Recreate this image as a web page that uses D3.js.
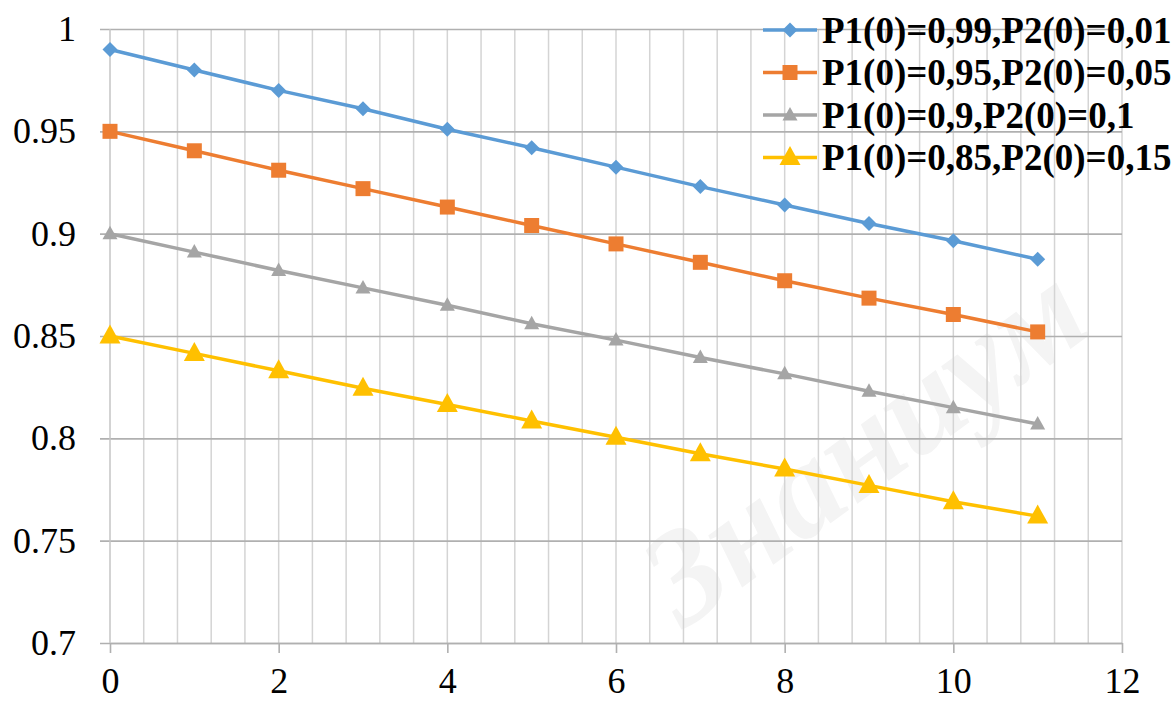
<!DOCTYPE html>
<html>
<head>
<meta charset="utf-8">
<script src="https://cdn.jsdelivr.net/npm/d3@7"></script>
<style>
  body { margin: 0; background: #fff; }
  svg text { font-family: "Liberation Serif", "Times New Roman", Tinos, "DejaVu Serif", serif !important; }
</style>
</head>
<body>
<div id="chart"></div>
<script>
// data
var steps = [0, 1, 2, 3, 4, 5, 6, 7, 8, 9, 10, 11];
var s1 = [0.99, 0.980, 0.970, 0.961, 0.951, 0.942, 0.9325, 0.923, 0.914, 0.905, 0.8965, 0.8875];
var s2 = [0.95, 0.9405, 0.931, 0.922, 0.913, 0.904, 0.895, 0.886, 0.877, 0.8685, 0.8605, 0.852];
var s3 = [0.90, 0.891, 0.882, 0.8735, 0.865, 0.856, 0.848, 0.8395, 0.8315, 0.823, 0.815, 0.807];
var s4 = [0.85, 0.8415, 0.833, 0.8245, 0.8165, 0.8085, 0.8005, 0.7925, 0.785, 0.777, 0.769, 0.762];
var seriesNames = ["P1(0)=0,99,P2(0)=0,01", "P1(0)=0,95,P2(0)=0,05", "P1(0)=0,9,P2(0)=0,1", "P1(0)=0,85,P2(0)=0,15"];
var xTicks = [0, 2, 4, 6, 8, 10, 12];
var yTicks = [0.7, 0.75, 0.8, 0.85, 0.9, 0.95, 1];

var svgWidth = 1176;
var svgHeight = 702;
var margin = { top: 29, right: 54, bottom: 59, left: 110 };
var width = svgWidth - margin.left - margin.right;
var height = svgHeight - margin.top - margin.bottom;

var colors = ["#5B9BD5", "#ED7D31", "#A5A5A5", "#FFC000"];
var shapes = ["diamond", "square", "triangle", "bigtriangle"];

var svg = d3.select("#chart").append("svg")
    .attr("width", svgWidth)
    .attr("height", svgHeight);

// faint watermark
svg.append("text")
    .attr("transform", "translate(890, 480) rotate(-36)")
    .attr("text-anchor", "middle")
    .attr("font-size", 135)
    .attr("font-weight", "bold")
    .attr("font-style", "italic")
    .attr("fill", "#f4f4f4")
    .text("Знаниум");

var chartGroup = svg.append("g")
    .attr("transform", `translate(${margin.left}, ${margin.top})`);

var xscale = d3.scaleLinear().domain([0, 12]).range([0, width]);
var yscale = d3.scaleLinear().domain([0.7, 1]).range([height, 0]);

// minor vertical grid every 0.4
var minorX = d3.range(1, 31).map(i => +(i * 0.4).toFixed(1));
chartGroup.append("g").selectAll("line")
    .data(minorX)
    .enter().append("line")
    .attr("x1", d => xscale(d)).attr("x2", d => xscale(d))
    .attr("y1", 0).attr("y2", height)
    .attr("stroke", "#d4d4d4")
    .attr("stroke-width", 1.5);

// horizontal major grid + y axis
var leftAxis = d3.axisLeft(yscale)
    .tickValues(yTicks)
    .tickSize(-width - 10)
    .tickFormat(d => d3.format("")(d));
chartGroup.append("g")
    .attr("transform", "translate(-10,0)")
    .call(leftAxis)
    .call(g => g.select(".domain").remove())
    .call(g => g.selectAll(".tick line").attr("stroke", "#b0b0b0").attr("stroke-width", 1.6))
    .call(g => g.selectAll(".tick text")
        .attr("x", -24)
        .attr("font-size", 36)
        .attr("fill", "#000"));

// x axis
var bottomAxis = d3.axisBottom(xscale)
    .tickValues(xTicks)
    .tickSize(10)
    .tickSizeOuter(0);
chartGroup.append("g")
    .attr("transform", `translate(0, ${height})`)
    .call(bottomAxis)
    .call(g => g.select(".domain").attr("stroke", "#b0b0b0").attr("stroke-width", 1.6))
    .call(g => g.selectAll(".tick line").attr("stroke", "#b0b0b0").attr("stroke-width", 1.6))
    .call(g => g.selectAll(".tick text")
        .attr("y", 24)
        .attr("dy", "0.71em")
        .attr("font-size", 36)
        .attr("fill", "#000"));

// left edge line
chartGroup.append("line")
    .attr("x1", 0).attr("x2", 0).attr("y1", 0).attr("y2", height)
    .attr("stroke", "#c4c4c4").attr("stroke-width", 1.5);

function markerPath(shape) {
    if (shape === "diamond") return "M0,-7.5L7.5,0L0,7.5L-7.5,0Z";
    if (shape === "square") return "M-7.5,-7.5H7.5V7.5H-7.5Z";
    if (shape === "triangle") return "M0,-8L7.5,5.5H-7.5Z";
    return "M0,-11.5L10.5,7.5H-10.5Z";
}

var allSeries = [s1, s2, s3, s4];
var line = d3.line()
    .x((d, i) => xscale(steps[i]))
    .y(d => yscale(d));

allSeries.forEach(function (vals, k) {
    chartGroup.append("path")
        .datum(vals)
        .attr("fill", "none")
        .attr("stroke", colors[k])
        .attr("stroke-width", 3.5)
        .attr("d", line);
    chartGroup.selectAll(".m" + k)
        .data(vals)
        .enter().append("path")
        .attr("class", "m" + k)
        .attr("transform", (d, i) => `translate(${xscale(steps[i])}, ${yscale(d)})`)
        .attr("d", markerPath(shapes[k]))
        .attr("fill", colors[k]);
});

// legend
var legend = svg.append("g").attr("transform", "translate(763, 30)");
seriesNames.forEach(function (name, k) {
    var row = legend.append("g").attr("transform", `translate(0, ${k * 42.5})`);
    row.append("line")
        .attr("x1", 0).attr("x2", 54)
        .attr("stroke", colors[k]).attr("stroke-width", 3.5);
    row.append("path")
        .attr("transform", "translate(27,0)")
        .attr("d", markerPath(shapes[k]))
        .attr("fill", colors[k]);
    row.append("text")
        .attr("x", 59)
        .attr("dy", "0.35em")
        .attr("font-size", 37)
        .attr("font-weight", "bold")
        .attr("fill", "#000")
        .text(name);
});
</script>
</body>
</html>
